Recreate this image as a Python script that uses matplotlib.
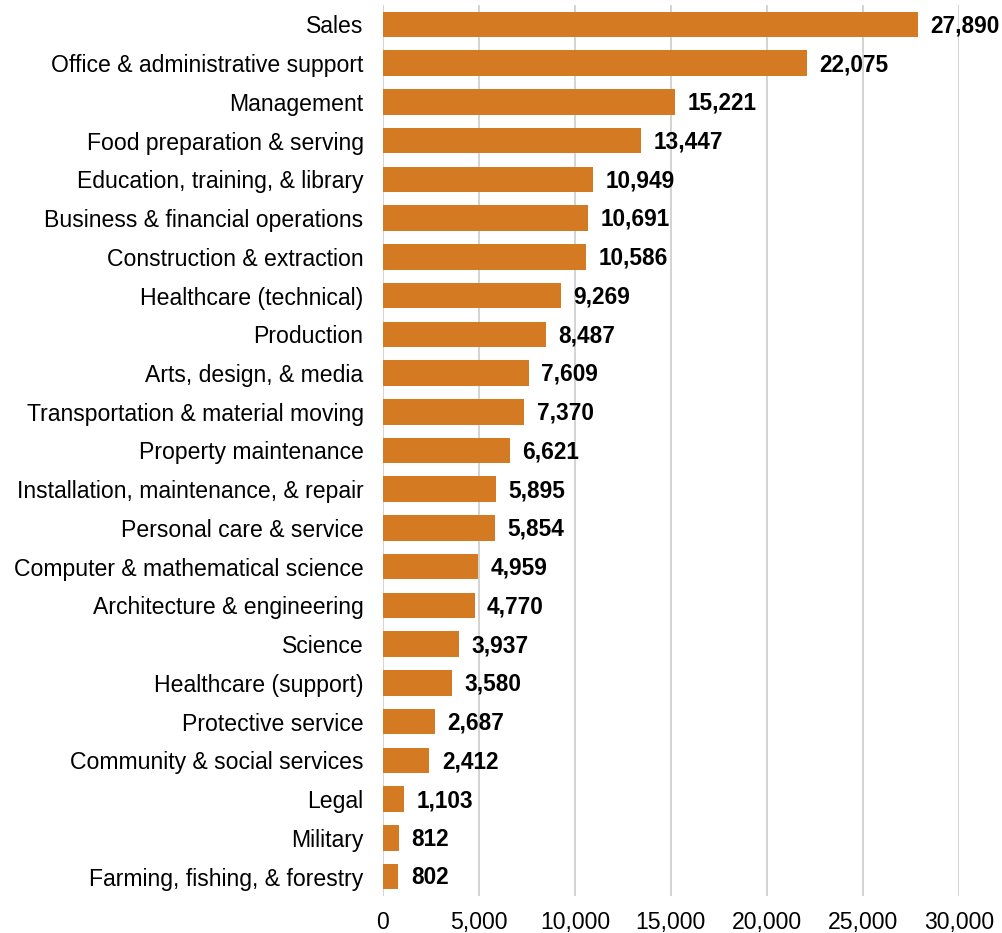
import matplotlib
matplotlib.use("Agg")
import matplotlib.pyplot as plt

categories = [
    "Sales", "Office & administrative support", "Management",
    "Food preparation & serving", "Education, training, & library",
    "Business & financial operations", "Construction & extraction",
    "Healthcare (technical)", "Production", "Arts, design, & media",
    "Transportation & material moving", "Property maintenance",
    "Installation, maintenance, & repair", "Personal care & service",
    "Computer & mathematical science", "Architecture & engineering",
    "Science", "Healthcare (support)", "Protective service",
    "Community & social services", "Legal", "Military",
    "Farming, fishing, & forestry",
]
values = [27890, 22075, 15221, 13447, 10949, 10691, 10586, 9269, 8487, 7609,
          7370, 6621, 5895, 5854, 4959, 4770, 3937, 3580, 2687, 2412, 1103,
          812, 802]
xticks = [0, 5000, 10000, 15000, 20000, 25000, 30000]

plt.rcParams['font.family'] = ['Liberation Sans', 'DejaVu Sans']

fig = plt.figure(figsize=(10.02, 9.33), dpi=100)
ax = fig.add_axes([0.3822, 0.0397, 0.5746, 0.9549])

pos = list(range(len(categories)))
ax.barh(pos, values, height=0.66, color='#D47A22', zorder=2)
for p, v in zip(pos, values):
    ax.annotate(f"{v:,}", (v, p), xytext=(9, -1), textcoords='offset points',
                va='center', ha='left', fontsize=16.3, fontweight='bold',
                color='#000000', annotation_clip=False)

ax.set_ylim(len(categories) - 0.5, -0.5)
ax.set_xlim(0, 30000)
ax.set_yticks(pos)
ax.set_yticklabels(categories, fontsize=16.6, color='#000000')
ax.set_xticks(xticks)
ax.set_xticklabels([f"{t:,}" for t in xticks], fontsize=16.6, color='#000000')
ax.tick_params(axis='both', length=0)
ax.tick_params(axis='y', pad=14)
ax.tick_params(axis='x', pad=11)
ax.grid(axis='x', color='#D0D0D0', linewidth=1.3, zorder=0)
for s in ax.spines.values():
    s.set_visible(False)

fig.savefig("out.png", dpi=100)
